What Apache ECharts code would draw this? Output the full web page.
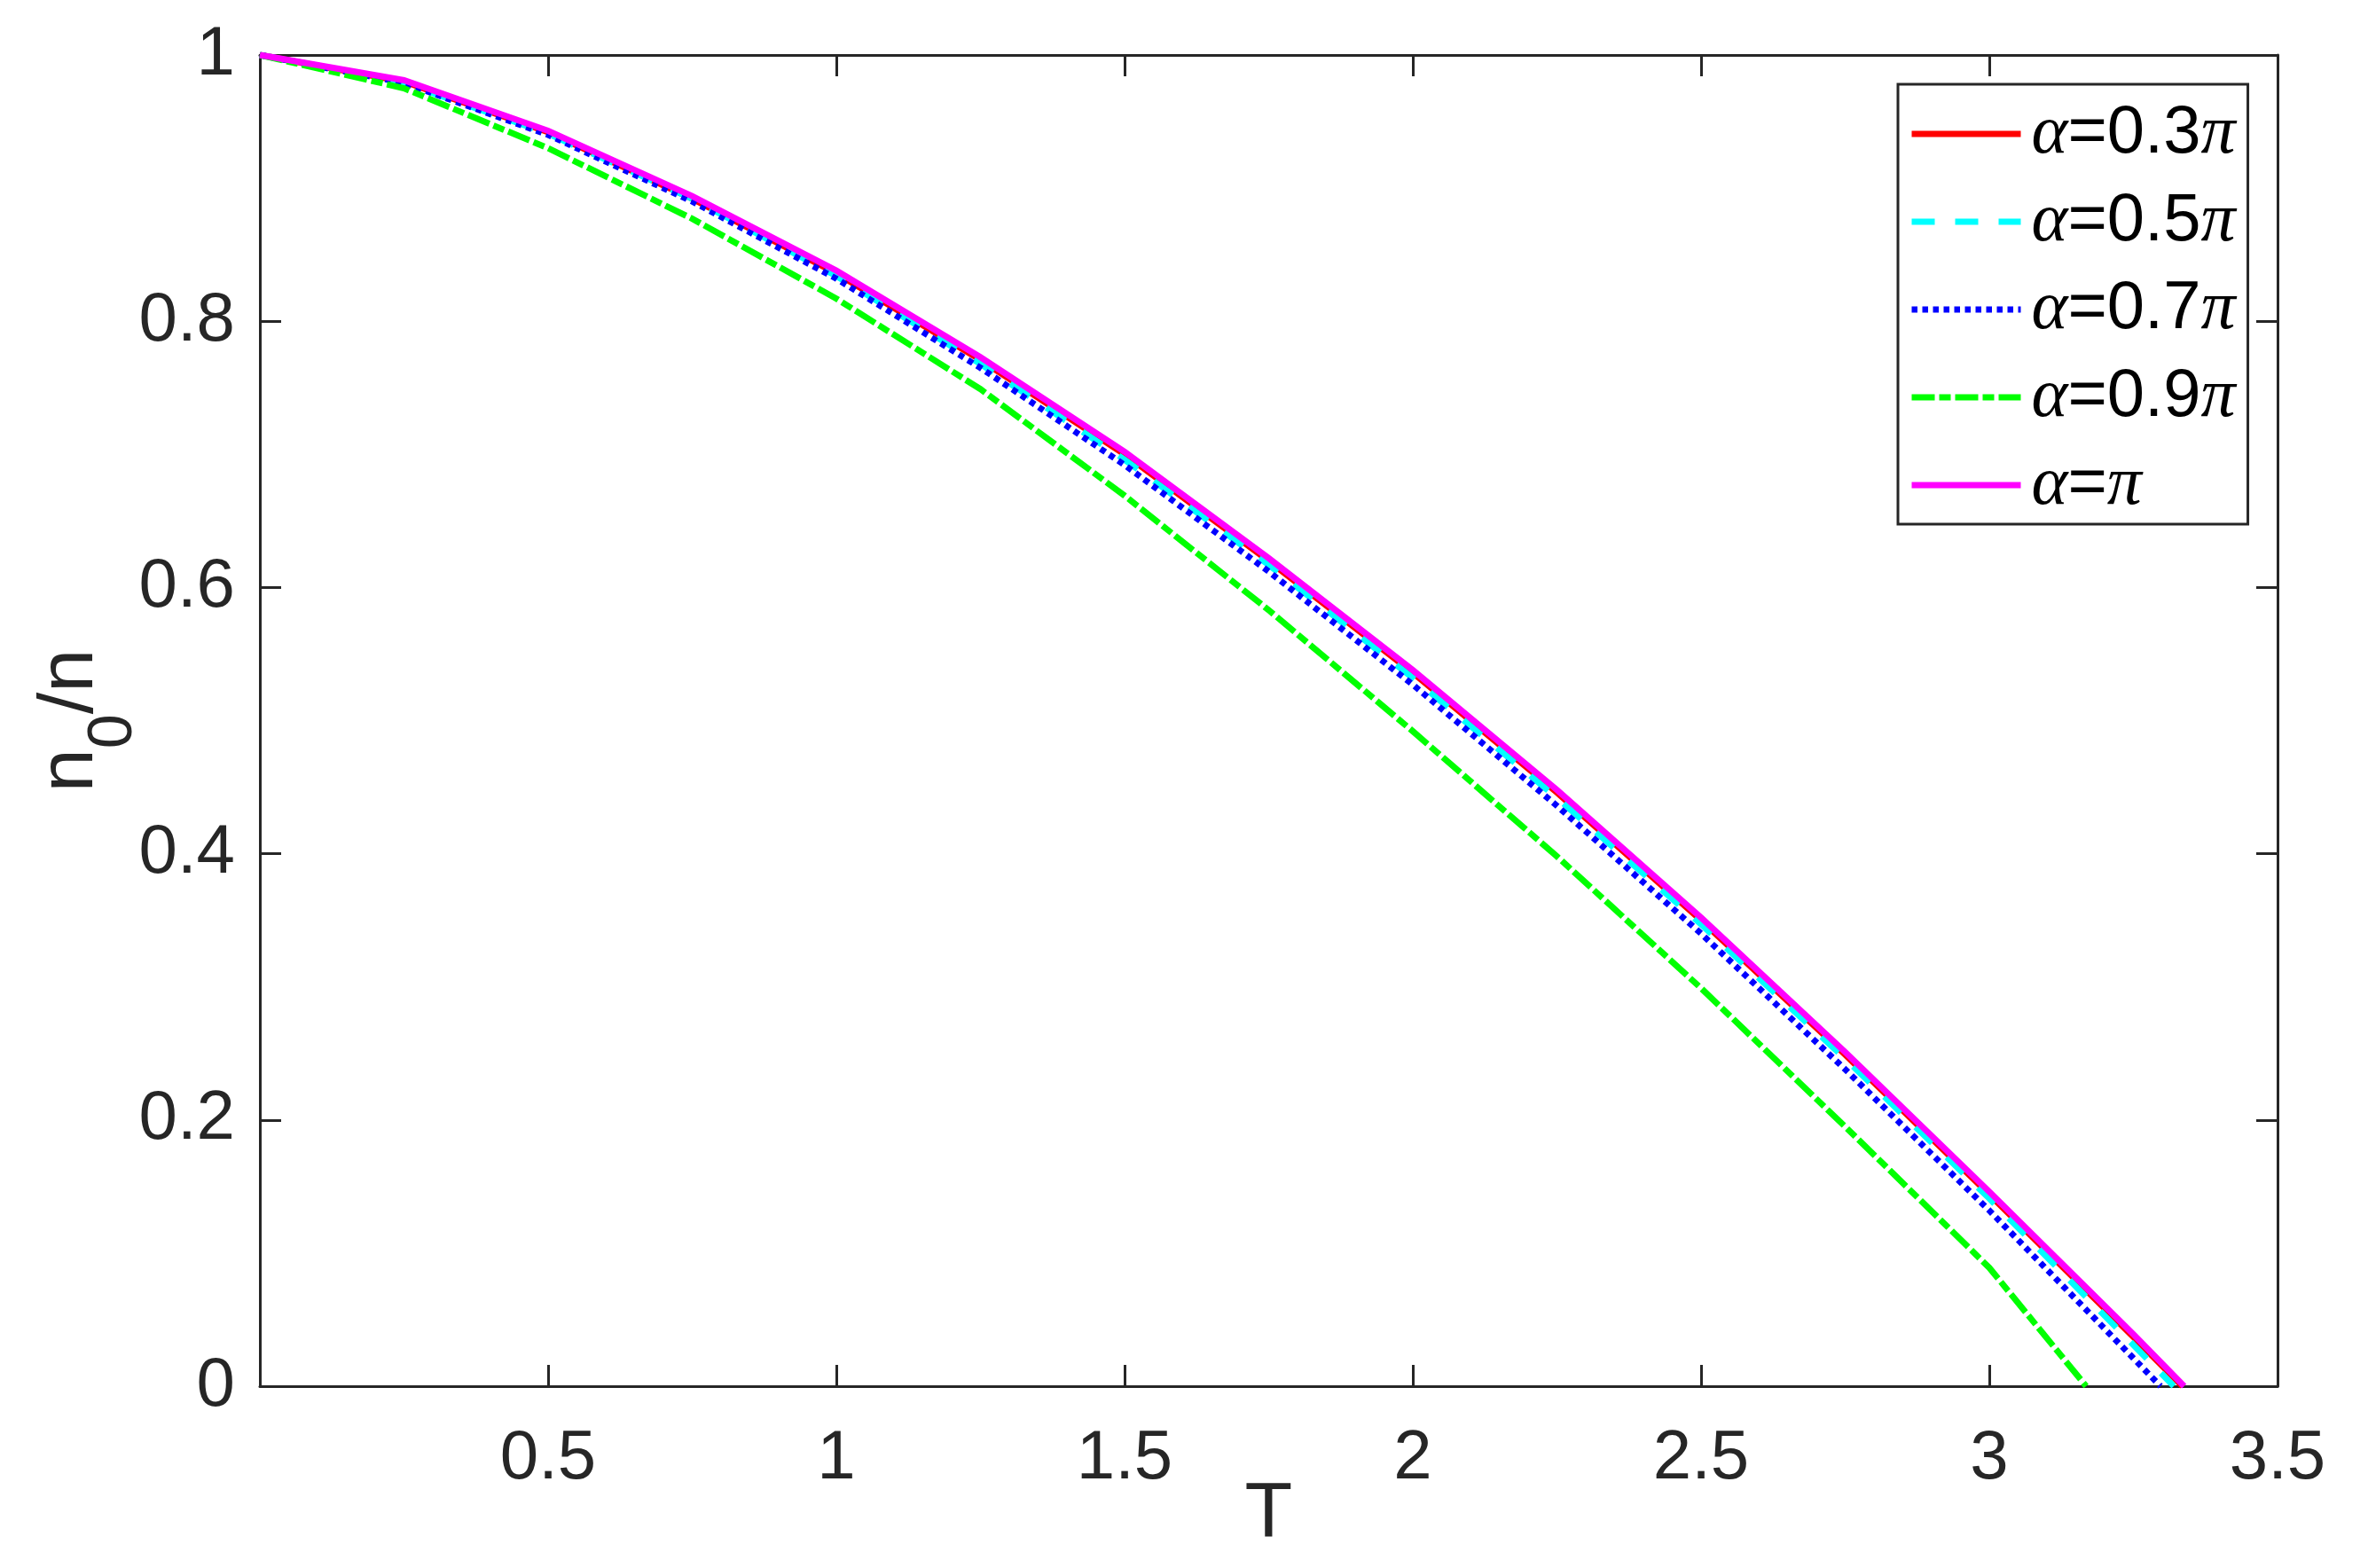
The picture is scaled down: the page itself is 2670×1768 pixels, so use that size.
<!DOCTYPE html>
<html>
<head>
<meta charset="utf-8">
<script src="https://cdn.jsdelivr.net/npm/echarts@6/dist/echarts.min.js"></script>
<style>
html,body{margin:0;padding:0;background:#fff;}
#chart{width:2670px;height:1768px;}
</style>
</head>
<body>
<div id="chart"></div>
<script>
// Temperature grid
const T = [0, 0.25, 0.5, 0.75, 1, 1.25, 1.5, 1.75, 2, 2.25, 2.5, 2.75, 3, 3.25];

// n0/n values
const a03 = [1, 0.980, 0.942, 0.892, 0.836, 0.771, 0.700, 0.620, 0.536, 0.446, 0.350, 0.249, 0.144, 0.037];
const a03End = 3.335;
const a05 = [1, 0.979, 0.941, 0.892, 0.834, 0.768, 0.696, 0.617, 0.532, 0.442, 0.347, 0.246, 0.141, 0.031];
const a05End = 3.320;
const a07 = [1, 0.979, 0.940, 0.890, 0.832, 0.765, 0.692, 0.612, 0.527, 0.436, 0.340, 0.238, 0.132, 0.021];
const a07End = 3.297;
const a09 = [1, 0.975, 0.930, 0.877, 0.817, 0.749, 0.669, 0.583, 0.492, 0.398, 0.299, 0.195, 0.089];
const a09End = 3.168;
const a10 = [1, 0.981, 0.943, 0.894, 0.838, 0.773, 0.702, 0.622, 0.538, 0.448, 0.352, 0.251, 0.146, 0.039];
const a10End = 3.338;

const seriesNames = ['α=0.3π', 'α=0.5π', 'α=0.7π', 'α=0.9π', 'α=π'];
const legendRich = {
  'α=0.3π': '{g|α}=0.3{g|π}',
  'α=0.5π': '{g|α}=0.5{g|π}',
  'α=0.7π': '{g|α}=0.7{g|π}',
  'α=0.9π': '{g|α}=0.9{g|π}',
  'α=π': '{g|α}={g|π}'
};
const xTicks = { min: 0, max: 3.5, interval: 0.5 };
const yTicks = { min: 0, max: 1, interval: 0.2 };

function pts(vals, end) {
  const d = vals.map((v, i) => [T[i], v]);
  d.push([end, 0]);
  return d;
}

const AX = '#262626';
const SANS = '"Liberation Sans", Arial, Helvetica, sans-serif';
const SERIF = '"Liberation Serif", "Times New Roman", serif';
const LW = 7;

const chart = echarts.init(document.getElementById('chart'), null, { renderer: 'canvas' });

function axisCommon(extra) {
  return Object.assign({
    type: 'value',
    nameMoveOverlap: false,
    axisLine: { show: true, onZero: false, lineStyle: { color: AX, width: 3 } },
    axisTick: { show: true, inside: true, length: 24, lineStyle: { color: AX, width: 3 } },
    splitLine: { show: false },
    minorTick: { show: false }
  }, extra);
}

function lineSeries(name, data, color, dash) {
  return {
    name: name,
    type: 'line',
    data: data,
    xAxisIndex: 0,
    yAxisIndex: 0,
    symbol: 'none',
    showSymbol: false,
    smooth: false,
    clip: true,
    lineStyle: { color: color, width: LW, type: dash, cap: 'butt', join: 'miter' },
    itemStyle: { color: color },
    emphasis: { disabled: true }
  };
}

const option = {
  animation: false,
  backgroundColor: '#ffffff',
  grid: { left: 293, right: 102, top: 62, bottom: 205, containLabel: false, outerBoundsMode: 'none' },
  xAxis: [
    axisCommon({
      position: 'bottom',
      min: xTicks.min, max: xTicks.max, interval: xTicks.interval,
      axisLabel: {
        color: AX, fontSize: 78, fontFamily: SANS, margin: 43,
        formatter: v => (v === 0 ? '' : String(v))
      },
      name: 'T',
      nameLocation: 'middle',
      nameGap: 101,
      nameTextStyle: { color: AX, fontSize: 88, fontFamily: SANS }
    }),
    axisCommon({
      position: 'top',
      min: xTicks.min, max: xTicks.max, interval: xTicks.interval,
      axisLabel: { show: false }
    })
  ],
  yAxis: [
    axisCommon({
      position: 'left',
      min: yTicks.min, max: yTicks.max, interval: yTicks.interval,
      axisLabel: {
        color: AX, fontSize: 78, fontFamily: SANS, margin: 28,
        formatter: v => String(Math.round(v * 10) / 10)
      },
      name: '{a|n}{b|0}{a|/n}',
      nameLocation: 'middle',
      nameRotate: 90,
      nameGap: 169,
      nameTextStyle: {
        rich: {
          a: { fontSize: 88, lineHeight: 88, fontFamily: SANS, color: AX, verticalAlign: 'top' },
          b: { fontSize: 70, lineHeight: 70, fontFamily: SANS, color: AX, verticalAlign: 'top', padding: [58, 0, 0, 0] }
        }
      }
    }),
    axisCommon({
      position: 'right',
      min: yTicks.min, max: yTicks.max, interval: yTicks.interval,
      axisLabel: { show: false }
    })
  ],
  legend: {
    show: true,
    orient: 'vertical',
    left: 2140,
    top: 95,
    padding: [17, 14, 5, 12],
    itemGap: 21,
    itemWidth: 123,
    itemHeight: 14,
    backgroundColor: '#ffffff',
    borderColor: AX,
    borderWidth: 3,
    borderRadius: 0,
    selectedMode: false,
    itemStyle: { opacity: 0 },
    lineStyle: { width: LW, cap: 'butt' },
    data: seriesNames,
    formatter: name => legendRich[name],
    textStyle: {
      color: '#000000', fontSize: 76, lineHeight: 76, fontFamily: SANS,
      padding: [0, 0, 0, 7],
      rich: {
        g: { fontSize: 78, lineHeight: 76, fontFamily: SERIF, fontStyle: 'italic', color: '#000000' }
      }
    }
  },
  series: [
    lineSeries(seriesNames[0], pts(a03, a03End), '#ff0000', 'solid'),
    lineSeries(seriesNames[1], pts(a05, a05End), '#00ffff', [26, 23]),
    lineSeries(seriesNames[2], pts(a07, a07End), '#0000ff', [6.5, 5.5]),
    lineSeries(seriesNames[3], pts(a09, a09End), '#00ff00', [26, 5, 13, 5]),
    lineSeries(seriesNames[4], pts(a10, a10End), '#ff00ff', 'solid')
  ]
};

chart.setOption(option);
</script>
</body>
</html>
